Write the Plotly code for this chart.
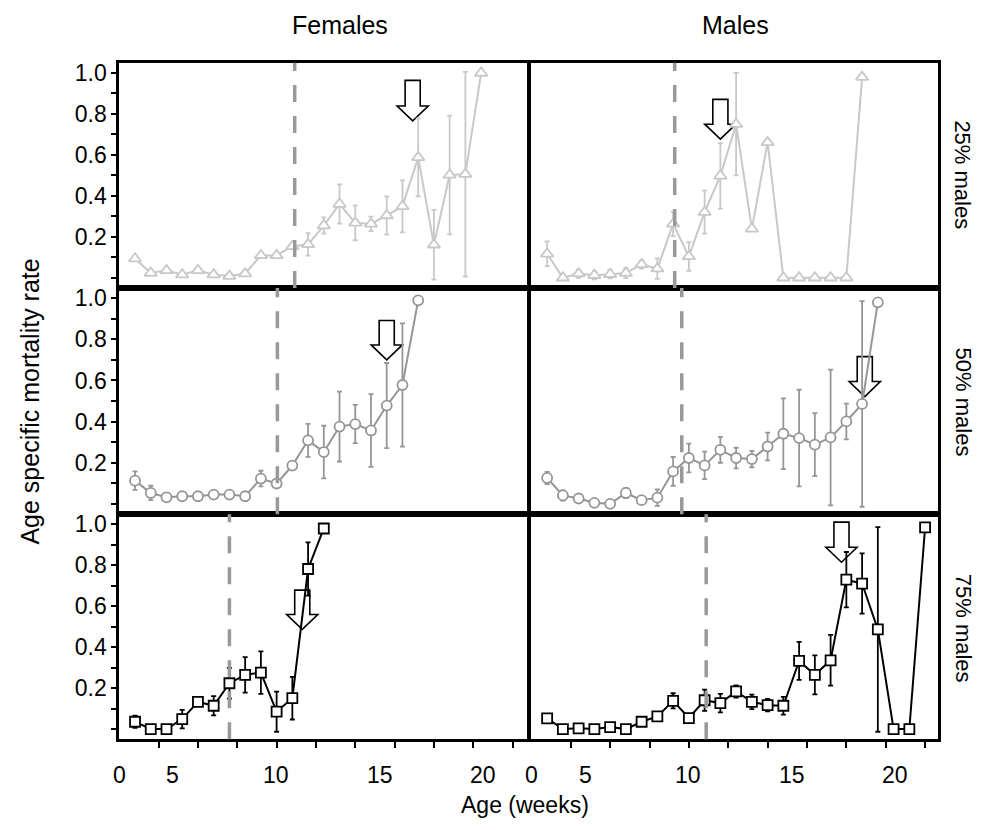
import plotly.graph_objects as go

W, H = 992, 830

# ---------------- data (age in weeks, age specific mortality rate, error) ----------------
weeks_f25 = list(range(1, 24))
rate_f25 = [0.093, 0.023, 0.036, 0.015, 0.036, 0.015, 0.008, 0.020, 0.109, 0.109, 0.153, 0.163,
            0.255, 0.360, 0.268, 0.263, 0.304, 0.349, 0.588, 0.161, 0.502, 0.506, 1.000]
err_f25 = [0, 0, 0, 0, 0, 0, 0, 0, 0, 0, 0, 0.055,
           0.040, 0.096, 0.085, 0.035, 0.093, 0.127, 0.190, 0.170, 0.290, 0.500, 0]

weeks_m25 = list(range(1, 22))
rate_m25 = [0.117, 0.000, 0.020, 0.012, 0.017, 0.023, 0.065, 0.044, 0.263, 0.104, 0.320, 0.498,
            0.750, 0.239, 0.661, 0.000, 0.000, 0.000, 0.000, 0.000, 0.980]
err_m25 = [0.060, 0, 0.020, 0.020, 0.020, 0.025, 0.020, 0.050, 0.060, 0.070, 0.105, 0.160,
           0.250, 0, 0, 0, 0, 0, 0, 0, 0]

weeks_f50 = list(range(1, 20))
rate_f50 = [0.113, 0.053, 0.032, 0.037, 0.037, 0.045, 0.045, 0.037, 0.123, 0.099, 0.186, 0.309,
            0.252, 0.376, 0.388, 0.357, 0.478, 0.578, 0.990]
err_f50 = [0.045, 0.035, 0, 0, 0, 0, 0, 0, 0.038, 0, 0, 0.080,
           0.128, 0.170, 0.093, 0.177, 0.207, 0.300, 0]

weeks_m50 = list(range(1, 23))
rate_m50 = [0.126, 0.041, 0.026, 0.005, 0.000, 0.053, 0.018, 0.030, 0.158, 0.223, 0.187, 0.263,
            0.223, 0.218, 0.279, 0.341, 0.320, 0.288, 0.323, 0.401, 0.486, 0.980]
err_m50 = [0.030, 0.025, 0, 0, 0, 0.025, 0, 0.040, 0.070, 0.070, 0.067, 0.063,
           0.050, 0.040, 0.067, 0.172, 0.235, 0.153, 0.330, 0.087, 0.500, 0]

weeks_f75 = list(range(1, 14))
rate_f75 = [0.036, 0.000, 0.000, 0.049, 0.133, 0.114, 0.224, 0.265, 0.276, 0.085, 0.151, 0.782, 0.980]
err_f75 = [0.030, 0, 0, 0.045, 0, 0.047, 0.075, 0.087, 0.104, 0.098, 0.104, 0.130, 0]

weeks_m75 = list(range(1, 26))
rate_m75 = [0.052, 0.000, 0.004, 0.000, 0.010, 0.000, 0.036, 0.062, 0.138, 0.054, 0.141, 0.127,
            0.184, 0.133, 0.117, 0.114, 0.333, 0.265, 0.336, 0.730, 0.711, 0.487, 0.000, 0.000, 0.985]
err_m75 = [0, 0, 0, 0, 0, 0, 0, 0, 0.037, 0.020, 0.052, 0.045,
           0.030, 0.035, 0.030, 0.043, 0.093, 0.095, 0.124, 0.135, 0.147, 0.500, 0, 0, 0]

# dashed reference line (weeks) per panel
onset = [11.15, 9.1, 10.05, 9.55, 7.0, 11.1]
# arrow: (week of tip, rate at tip, rate at top)
arrows = [(18.65, 0.766, 0.964), (12.0, 0.677, 0.871), (17.0, 0.700, 0.892),
          (21.17, 0.522, 0.716), (11.63, 0.487, 0.679), (19.69, 0.815, 1.011)]

col_titles = ["Females", "Males"]
row_titles = ["25% males", "50% males", "75% males"]
x_label_vals = [0, 3.41, 9.96, 16.57, 23.1]
x_label_text = ["0", "5", "10", "15", "20"]
y_tick_vals = [0, 0.1, 0.2, 0.3, 0.4, 0.5, 0.6, 0.7, 0.8, 0.9, 1.0]
y_tick_text = ["", "", "0.2", "", "0.4", "", "0.6", "", "0.8", "", "1.0"]
x_tick_vals = [2.5, 5, 7.5, 10, 12.5, 15, 17.5, 20, 22.5, 25]

panels = [
    (weeks_f25, rate_f25, err_f25),
    (weeks_m25, rate_m25, err_m25),
    (weeks_f50, rate_f50, err_f50),
    (weeks_m50, rate_m50, err_m50),
    (weeks_f75, rate_f75, err_f75),
    (weeks_m75, rate_m75, err_m75),
]

# ---------------- layout geometry / styles ----------------
FONT = "Liberation Sans, Arial, Helvetica, sans-serif"
col_px = [(119.3, 528.3), (529.5, 938.0)]
row_px = [(60, 286), (286, 513), (513, 739)]
xranges = [[0, 26], [-0.12, 25.82]]
yrange = [-0.05, 1.05]
row_style = [
    dict(symbol="triangle-up", color="#c8c8c8", size=11),
    dict(symbol="circle", color="#969696", size=10),
    dict(symbol="square", color="#000000", size=10),
]

fig = go.Figure()
shapes = []
annotations = []

for i, (wk, rt, er) in enumerate(panels):
    p = i + 1
    r, c = divmod(i, 2)
    st = row_style[r]
    xa = "x" if p == 1 else f"x{p}"
    ya = "y" if p == 1 else f"y{p}"
    fig.add_trace(go.Scatter(
        x=wk, y=rt, xaxis=xa, yaxis=ya, mode="lines+markers",
        line=dict(color=st["color"], width=2),
        marker=dict(symbol=st["symbol"], size=st["size"], color="white",
                    line=dict(color=st["color"], width=1.8)),
        error_y=dict(type="data", array=er, visible=True, color=st["color"],
                     thickness=1.8, width=2.5),
        showlegend=False, cliponaxis=False,
    ))
    x0, x1 = col_px[c]
    y0, y1 = row_px[r]
    fig.layout[f"xaxis{'' if p == 1 else p}"] = dict(
        domain=[x0 / W, x1 / W], range=xranges[c], anchor=ya,
        showline=True, linecolor="black", linewidth=3, mirror=True,
        showgrid=False, zeroline=False,
        ticks="outside" if r == 2 else "", tickvals=x_tick_vals if r == 2 else [],
        ticklen=6, tickwidth=2, tickcolor="black", showticklabels=False,
    )
    fig.layout[f"yaxis{'' if p == 1 else p}"] = dict(
        domain=[1 - y1 / H, 1 - y0 / H], range=yrange, anchor=xa,
        showline=True, linecolor="black", linewidth=3, mirror=True,
        showgrid=False, zeroline=False,
        ticks="outside" if c == 0 else "", tickvals=y_tick_vals if c == 0 else [],
        ticktext=y_tick_text if c == 0 else [], showticklabels=(c == 0),
        ticklen=5, tickwidth=2, tickcolor="black",
        tickfont=dict(family=FONT, size=23, color="black"),
    )
    # dashed onset line
    shapes.append(dict(type="line", xref=xa, yref=f"{ya} domain", x0=onset[i], x1=onset[i],
                       y0=0, y1=1, line=dict(color="#999999", width=3.5, dash="17px,14px"),
                       layer="above"))
    # block arrow
    tx, ty, top = arrows[i]
    hs, hh, hd = 0.48, 0.99, 0.073
    neck = ty + hd
    path = (f"M {tx - hs},{top} L {tx + hs},{top} L {tx + hs},{neck} L {tx + hh},{neck} "
            f"L {tx},{ty} L {tx - hh},{neck} L {tx - hs},{neck} Z")
    shapes.append(dict(type="path", xref=xa, yref=ya, path=path, fillcolor="white",
                       line=dict(color="black", width=1.6), layer="below"))

# x tick labels (bottom row)
for c, xa in enumerate(["x5", "x6"]):
    for v, t in zip(x_label_vals, x_label_text):
        annotations.append(dict(xref=xa, yref="paper", x=v, y=1 - 775 / H, text=t,
                                showarrow=False, font=dict(family=FONT, size=23, color="black"),
                                xanchor="center", yanchor="middle"))

# column titles
for t, xp in zip(col_titles, [340, 735]):
    annotations.append(dict(xref="paper", yref="paper", x=xp / W, y=1 - 22 / H, text=t,
                            showarrow=False, font=dict(family=FONT, size=25, color="black"),
                            xanchor="center", yanchor="middle"))
# row titles
for t, yp in zip(row_titles, [172, 400, 627]):
    annotations.append(dict(xref="paper", yref="paper", x=963 / W, y=1 - yp / H, text=t,
                            textangle=90, showarrow=False,
                            font=dict(family=FONT, size=22, color="black"),
                            xanchor="center", yanchor="middle"))
# axis titles
annotations.append(dict(xref="paper", yref="paper", x=525 / W, y=1 - 805 / H, text="Age (weeks)",
                        showarrow=False, font=dict(family=FONT, size=23, color="black"),
                        xanchor="center", yanchor="middle"))
annotations.append(dict(xref="paper", yref="paper", x=30 / W, y=1 - 400 / H,
                        text="Age specific mortality rate", textangle=-90, showarrow=False,
                        font=dict(family=FONT, size=25, color="black"),
                        xanchor="center", yanchor="middle"))

fig.update_layout(width=W, height=H, margin=dict(l=0, r=0, t=0, b=0),
                  paper_bgcolor="white", plot_bgcolor="white",
                  shapes=shapes, annotations=annotations)

fig.write_html("out.html", config={"displayModeBar": False},
               post_script="document.body.style.margin='0px';document.body.style.overflow='hidden';")
